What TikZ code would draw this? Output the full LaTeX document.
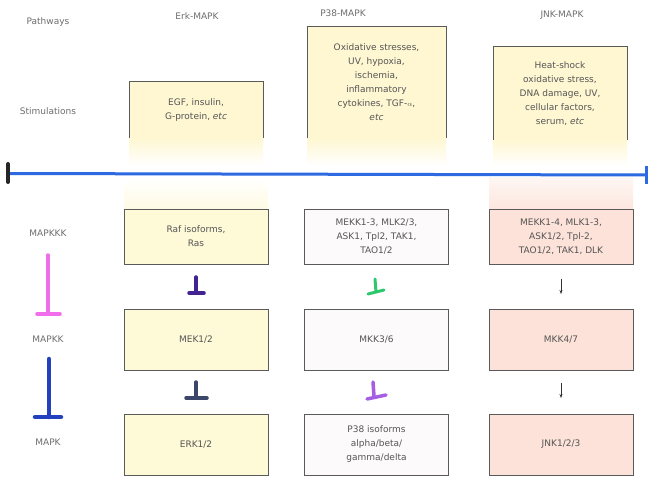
\documentclass[tikz,border=0pt]{standalone}
\usepackage{fontspec}
\setmainfont{DejaVu Sans}
\usetikzlibrary{arrows.meta}
\definecolor{txt}{RGB}{85,85,85}
\definecolor{hdr}{RGB}{110,110,110}
\definecolor{edge}{RGB}{90,90,90}
\definecolor{yel}{RGB}{254,249,215}
\definecolor{yelstim}{RGB}{254,247,210}
\definecolor{pnk}{RGB}{252,226,216}
\definecolor{wht}{RGB}{253,250,252}
\definecolor{bline}{RGB}{45,105,225}
\definecolor{magT}{RGB}{240,110,235}
\definecolor{blueT}{RGB}{35,65,190}
\definecolor{purT}{RGB}{65,35,145}
\definecolor{slateT}{RGB}{60,70,105}
\definecolor{greenT}{RGB}{45,200,110}
\definecolor{violT}{RGB}{165,95,225}
\begin{document}
\begin{tikzpicture}[x=1pt,y=-1pt,
  every node/.style={font=\fontsize{9}{14}\selectfont, text=txt, align=center, inner sep=0pt},
  head/.style={text=hdr},
  kbox/.style={draw=edge, line width=0.6pt, minimum width=144pt, minimum height=#1},
  kbox/.default=61pt,
  outline/.style={draw=edge, line width=0.6pt},
  tee/.style={line width=3.5pt, line cap=round},
  smallarr/.style={line width=0.5pt, -{Stealth[length=4pt,width=3pt]}, draw=black!80}
]
\useasboundingbox (0,0) rectangle (656,486);
\fill[white] (0,0) rectangle (656,486);

% glows
\shade[top color=yelstim, bottom color=white] (129,138) rectangle (263,166);
\shade[top color=yelstim, bottom color=white] (307,138) rectangle (446,166);
\shade[top color=yelstim, bottom color=white] (493,140) rectangle (627,166);
\shade[top color=white, bottom color=yel!70] (124,178) rectangle (268,209);
\shade[top color=pnk!30, bottom color=pnk!85] (489,178) rectangle (633,209);

% headers
\node[head] (hPath) at (48,22) {Pathways};
\node[head] (hErk) at (197,16) {Erk-MAPK};
\node[head] (hP38) at (343,13) {P38-MAPK};
\node[head] (hJNK) at (562,15) {JNK-MAPK};

% row labels
\node[head] (lStim) at (48,111) {Stimulations};
\node[head] (lKKK) at (48,233) {MAPKKK};
\node[head] (lKK) at (48,339) {MAPKK};
\node[head] (lK) at (48,442) {MAPK};

% stimulation boxes
\node[fill=yelstim, minimum width=134pt, minimum height=56pt] (sErk) at (196,110) {EGF, insulin,\\G-protein, \textit{etc}};
\node[fill=yelstim, minimum width=139pt, minimum height=111pt] (sP38) at (376.5,82.5) {Oxidative stresses,\\UV, hypoxia,\\ischemia,\\inflammatory\\cytokines, TGF-{\fontsize{7}{7}\selectfont$\alpha$},\\\textit{etc}};
\node[fill=yelstim, minimum width=134pt, minimum height=93pt] (sJNK) at (560,93.5) {Heat-shock\\oxidative stress,\\DNA damage, UV,\\cellular factors,\\serum, \textit{etc}};
\foreach \s in {sErk,sP38,sJNK}
  \draw[outline] (\s.south west) -- (\s.north west) -- (\s.north east) -- (\s.south east);

% blue line
\coordinate (bl) at (8,173.5);
\coordinate (br) at (646,175);
\draw[bline, line width=3pt] (bl) -- (br);
\draw[black!85, line width=4pt, line cap=round] (8,164) -- (8,182);
\draw[bline, line width=3pt] (646,166) -- (646,184);

% kinase boxes
\node[kbox=55pt, fill=yel] (e1) at (196,236.5) {Raf isoforms,\\Ras};
\node[kbox=55pt, fill=wht] (p1) at (376.5,236.5) {MEKK1-3, MLK2/3,\\ASK1, Tpl2, TAK1,\\TAO1/2};
\node[kbox=55pt, fill=pnk] (j1) at (561,236.5) {MEKK1-4, MLK1-3,\\ASK1/2, Tpl-2,\\TAO1/2, TAK1, DLK};

\node[kbox, fill=yel] (e2) at (196,339.5) {MEK1/2};
\node[kbox, fill=wht] (p2) at (376.5,339.5) {MKK3/6};
\node[kbox, fill=pnk] (j2) at (561,339.5) {MKK4/7};

\node[kbox, fill=yel] (e3) at (196,444.5) {ERK1/2};
\node[kbox, fill=wht] (p3) at (376.5,444.5) {P38 isoforms\\alpha/beta/\\gamma/delta};
\node[kbox, fill=pnk] (j3) at (561,444.5) {JNK1/2/3};

% left legend tees
\coordinate (mA) at (48,255); \coordinate (mB) at (48,314);
\coordinate (mL) at (37,314); \coordinate (mR) at (60,314);
\draw[tee, magT] (mA) -- (mB); \draw[tee, magT] (mL) -- (mR);
\coordinate (bA) at (49,359); \coordinate (bB) at (49,417);
\coordinate (bL) at (35,417); \coordinate (bR) at (61,417);
\draw[tee, blueT, line width=4.5pt] (bA) -- (bB); \draw[tee, blueT, line width=4.5pt] (bL) -- (bR);

% Erk tees
\coordinate (t1a) at (196,277); \coordinate (t1b) at (196,293);
\coordinate (t1l) at (189,293); \coordinate (t1r) at (204,293);
\draw[tee, purT] (t1a) -- (t1b); \draw[tee, purT] (t1l) -- (t1r);
\coordinate (t2a) at (196,382); \coordinate (t2b) at (196,398);
\coordinate (t2l) at (186,398); \coordinate (t2r) at (207,398);
\draw[tee, slateT] (t2a) -- (t2b); \draw[tee, slateT] (t2l) -- (t2r);

% P38 tees
\coordinate (t3a) at (375,279); \coordinate (t3b) at (376,292);
\coordinate (t3l) at (368,294); \coordinate (t3r) at (384,290);
\draw[tee, greenT, line width=3pt] (t3a) -- (t3b); \draw[tee, greenT, line width=3pt] (t3l) -- (t3r);
\coordinate (t4a) at (373,382); \coordinate (t4b) at (374,396);
\coordinate (t4l) at (367,399); \coordinate (t4r) at (386,395);
\draw[tee, violT] (t4a) -- (t4b); \draw[tee, violT] (t4l) -- (t4r);

% JNK arrows
\coordinate (a1a) at (561,279); \coordinate (a1b) at (561,294);
\draw[smallarr] (a1a) -- (a1b);
\coordinate (a2a) at (561,383); \coordinate (a2b) at (561,398);
\draw[smallarr] (a2a) -- (a2b);
\end{tikzpicture}
\end{document}
